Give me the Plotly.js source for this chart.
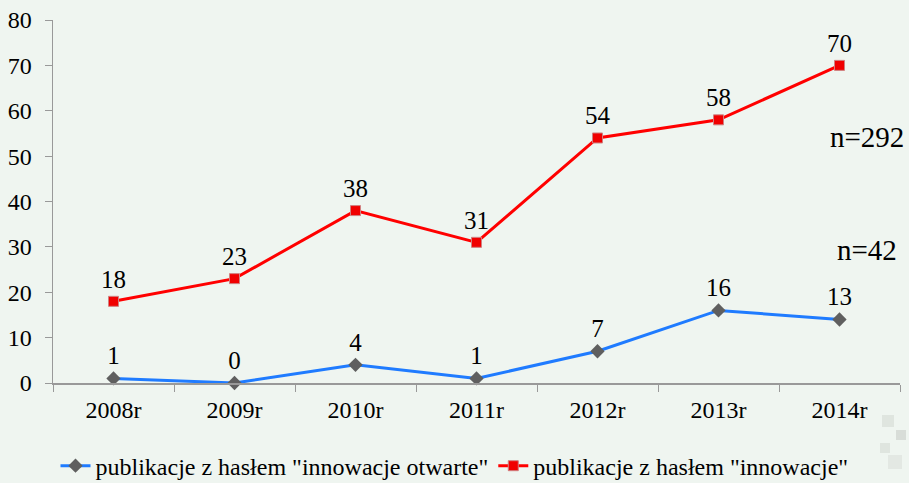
<!DOCTYPE html>
<html>
<head>
<meta charset="utf-8">
<script src="https://cdn.plot.ly/plotly-3.0.1.min.js"></script>
<style>html,body{margin:0;padding:0;background:#eff5f0;}#chart{width:909px;height:483px;}</style>
</head>
<body>
<div id="chart"></div>
<script>
const categories = ["2008r","2009r","2010r","2011r","2012r","2013r","2014r"];
const openValues = [1, 0, 4, 1, 7, 16, 14];
const openLabels = ["1","0","4","1","7","16","13"];
const innovValues = [18, 23, 38, 31, 54, 58, 70];
const innovLabels = ["18","23","38","31","54","58","70"];
const yTicks = [0,10,20,30,40,50,60,70,80];
const seriesNames = ['publikacje z hasłem "innowacje otwarte"', 'publikacje z hasłem "innowacje"'];
const totals = ["n=292", "n=42"];

const font = "Liberation Serif";

const traces = [
  {
    x: categories, y: openValues, text: openLabels, name: seriesNames[0],
    type: "scatter", mode: "lines+markers+text", textposition: "top center",
    textfont: {family: font, size: 25, color: "#000"},
    line: {color: "#1f7bff", width: 3},
    marker: {symbol: "diamond", size: 11, color: "#5f5f5f"},
    cliponaxis: false
  },
  {
    x: categories, y: innovValues, text: innovLabels, name: seriesNames[1],
    type: "scatter", mode: "lines+markers+text", textposition: "top center",
    textfont: {family: font, size: 25, color: "#000"},
    line: {color: "#ff0000", width: 3},
    marker: {symbol: "square", size: 10, color: "#f00000", line: {color: "#d08080", width: 1}},
    cliponaxis: false
  }
];

const deco = [[882,415,12,12,"#dfe5df"],[896,430,10,10,"#d8ddd8"],[880,443,10,10,"#dfe5df"],[888,455,14,14,"#e3e8e3"]];
const decoShapes = deco.map(d => ({type:"rect", xref:"paper", yref:"paper", layer:"below",
  x0:(d[0]-53)/847, x1:(d[0]+d[2]-53)/847, y0:(383-d[1]-d[3])/363, y1:(383-d[1])/363,
  fillcolor:d[4], line:{width:0}}));

const layout = {
  width: 909, height: 483,
  margin: {l: 53, r: 9, t: 20, b: 100},
  paper_bgcolor: "#eff5f0", plot_bgcolor: "#eff5f0",
  font: {family: font, color: "#000", size: 24},
  showlegend: true,
  legend: {orientation: "h", xref: "container", yref: "container", x: 0.5, xanchor: "center",
    y: 0.035, yanchor: "middle", font: {family: font, size: 24, color: "#000"},
    bgcolor: "rgba(0,0,0,0)", itemwidth: 30, tracegroupgap: 0},
  xaxis: {
    type: "category", tickson: "boundaries", ticks: "outside", ticklen: 7, tickcolor: "#999",
    showline: true, linecolor: "#999", linewidth: 1.5, showgrid: false, zeroline: false,
    tickfont: {family: font, size: 24, color: "#000"}, range: [-0.5, 6.5], ticklabelstandoff: 5
  },
  yaxis: {
    range: [0, 80], tickvals: yTicks, ticks: "outside", ticklen: 7, tickcolor: "#999",
    showline: true, linecolor: "#999", linewidth: 1.5, showgrid: false, zeroline: false,
    tickfont: {family: font, size: 24, color: "#000"}, ticklabelstandoff: 8
  },
  annotations: [
    {xref: "paper", yref: "y", x: 0.961, xanchor: "center", y: 54.2, text: totals[0], showarrow: false,
     font: {family: font, size: 29, color: "#000"}},
    {xref: "paper", yref: "y", x: 0.961, xanchor: "center", y: 29.3, text: totals[1], showarrow: false,
     font: {family: font, size: 29, color: "#000"}}
  ],
  shapes: decoShapes
};

Plotly.newPlot("chart", traces, layout, {displayModeBar: false, staticPlot: true});
</script>
</body>
</html>
